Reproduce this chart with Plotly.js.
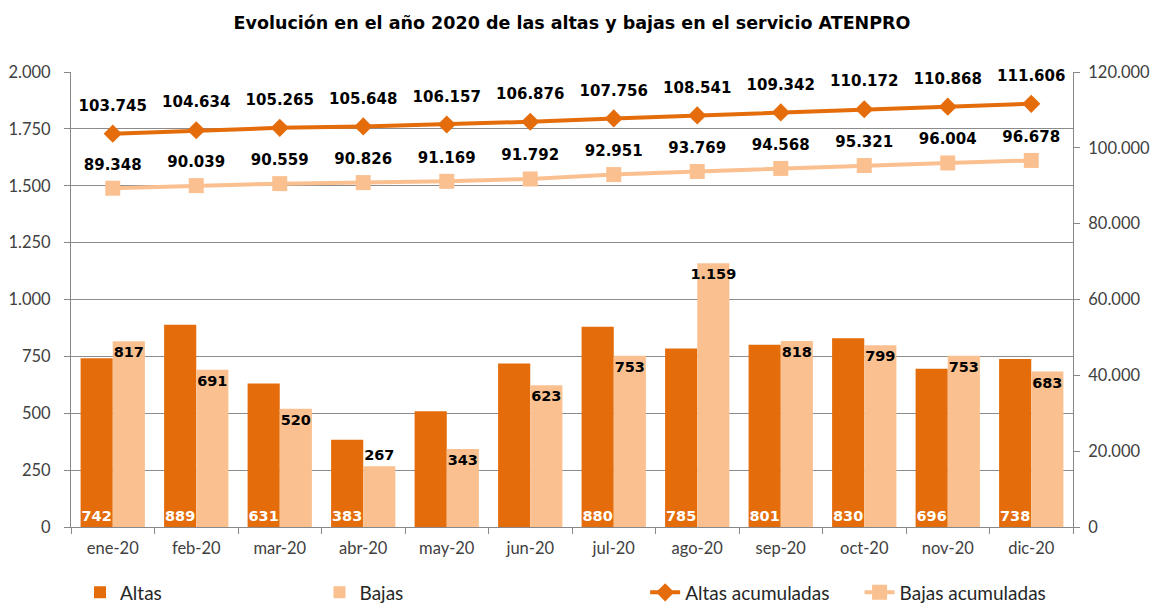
<!DOCTYPE html>
<html>
<head>
<meta charset="utf-8">
<script src="https://cdn.plot.ly/plotly-3.0.1.min.js"></script>
<style>html,body{margin:0;padding:0;background:#fff}#chart{width:1154px;height:607px}</style>
</head>
<body>
<div id="chart"></div>
<script>
const months = ['ene-20','feb-20','mar-20','abr-20','may-20','jun-20','jul-20','ago-20','sep-20','oct-20','nov-20','dic-20'];
const altas = [742, 889, 631, 383, 509, 719, 880, 785, 801, 830, 696, 738];
const bajas = [817, 691, 520, 267, 343, 623, 753, 1159, 818, 799, 753, 683];
const altasAcumuladas = [103745, 104634, 105265, 105648, 106157, 106876, 107756, 108541, 109342, 110172, 110868, 111606];
const bajasAcumuladas = [89348, 90039, 90559, 90826, 91169, 91792, 92951, 93769, 94568, 95321, 96004, 96678];
const altasLabelHidden = ['may-20','jun-20'];
const bajasLabelOutside = ['abr-20'];

const fmt = v => v.toLocaleString('de-DE');
const ORANGE = '#E46C0A', LIGHT = '#FAC090';
const boldBlack = {family: 'DejaVu Sans', size: 14.5, color: '#000', weight: 'bold'};
const lineLabelFont = {family: 'DejaVu Sans', size: 15, color: '#000', weight: 'bold'};

const traces = [
  {
    type: 'bar', name: 'Altas', x: months, y: altas, marker: {color: ORANGE},
    text: altas.map((v,i) => altasLabelHidden.includes(months[i]) ? '' : fmt(v)),
    texttemplate: '%{text}', textposition: 'inside', insidetextanchor: 'start', textangle: 0,
    constraintext: 'none', textfont: {family: 'DejaVu Sans', size: 14.5, color: '#fff', weight: 'bold'},
    hoverinfo: 'skip', legend: 'legend'
  },
  {
    type: 'bar', name: 'Bajas', x: months, y: bajas, marker: {color: LIGHT},
    text: bajas.map(v => fmt(v)), texttemplate: '%{text}',
    textposition: months.map(m => bajasLabelOutside.includes(m) ? 'outside' : 'inside'),
    insidetextanchor: 'end', textangle: 0, constraintext: 'none', cliponaxis: false,
    textfont: boldBlack, hoverinfo: 'skip', legend: 'legend2'
  },
  {
    type: 'scatter', mode: 'lines+markers', name: 'Altas acumuladas',
    x: months, y: altasAcumuladas, yaxis: 'y2',
    line: {color: ORANGE, width: 4}, marker: {symbol: 'diamond', size: 14, color: ORANGE},
    cliponaxis: false, hoverinfo: 'skip', legend: 'legend3'
  },
  {
    type: 'scatter', mode: 'lines+markers', name: 'Bajas acumuladas',
    x: months, y: bajasAcumuladas, yaxis: 'y2',
    line: {color: LIGHT, width: 4}, marker: {symbol: 'square', size: 15, color: LIGHT},
    cliponaxis: false, hoverinfo: 'skip', legend: 'legend4'
  },
  {
    type: 'scatter', mode: 'markers+text', name: 'Altas acumuladas (etiquetas)', showlegend: false,
    x: months, y: altasAcumuladas, yaxis: 'y2',
    marker: {size: 29, color: 'rgba(0,0,0,0)'},
    text: altasAcumuladas.map(fmt), textposition: 'top center', textfont: lineLabelFont,
    cliponaxis: false, hoverinfo: 'skip'
  },
  {
    type: 'scatter', mode: 'markers+text', name: 'Bajas acumuladas (etiquetas)', showlegend: false,
    x: months, y: bajasAcumuladas, yaxis: 'y2',
    marker: {size: 22, color: 'rgba(0,0,0,0)'},
    text: bajasAcumuladas.map(fmt), textposition: 'top center', textfont: lineLabelFont,
    cliponaxis: false, hoverinfo: 'skip'
  }
];

const legendBase = {orientation: 'h', yref: 'container', yanchor: 'middle', y: 0.024, xanchor: 'left',
  font: {family: 'Lato', size: 19, color: '#262626'}, bgcolor: 'rgba(0,0,0,0)'};

const layout = {
  width: 1154, height: 607,
  margin: {l: 71, r: 81, t: 72, b: 80},
  paper_bgcolor: '#fff', plot_bgcolor: '#fff',
  separators: ',.',
  font: {family: 'Lato', color: '#404040'},
  title: {text: '<b>Evolución en el año 2020 de las altas y bajas en el servicio ATENPRO</b>',
    x: 0.5, xanchor: 'center', xref: 'paper', y: 0.963, yanchor: 'middle',
    font: {family: 'DejaVu Sans', size: 17.5, color: '#000'}},
  barmode: 'group', bargap: 0.23, bargroupgap: 0,
  xaxis: {
    type: 'category', range: [-0.5, 11.5], autorange: false,
    tickson: 'boundaries', ticks: 'outside', ticklen: 6, tickcolor: '#888',
    showline: true, linecolor: '#888', linewidth: 1, showgrid: false, ticklabelstandoff: 6,
    automargin: false,
    tickfont: {family: 'Lato', size: 16.5, color: '#404040'}
  },
  yaxis: {
    range: [0, 2000], dtick: 250, tickformat: ',d', ticks: 'outside', ticklen: 6, tickcolor: '#888',
    showline: true, linecolor: '#888', gridcolor: '#8c8c8c', gridwidth: 1, zeroline: false,
    ticklabelstandoff: 10, automargin: false,
    tickfont: {family: 'Lato', size: 16.5, color: '#404040'}
  },
  yaxis2: {
    overlaying: 'y', side: 'right', range: [0, 120000], dtick: 20000, tickformat: ',d',
    ticks: 'outside', ticklen: 6, tickcolor: '#888', showline: true, linecolor: '#888',
    showgrid: false, zeroline: false, ticklabelstandoff: 5, automargin: false,
    tickfont: {family: 'Lato', size: 16.5, color: '#404040'}
  },
  showlegend: true,
  legend: Object.assign({}, legendBase, {x: 0.009}),
  legend2: Object.assign({}, legendBase, {x: 0.248}),
  legend3: Object.assign({}, legendBase, {x: 0.573}),
  legend4: Object.assign({}, legendBase, {x: 0.787})
};

Plotly.newPlot('chart', traces, layout, {displayModeBar: false, staticPlot: true});
</script>
</body>
</html>
